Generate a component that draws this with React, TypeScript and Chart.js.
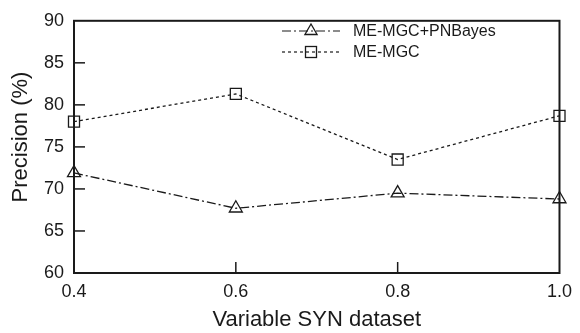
import React, { useEffect, useRef } from "react";
import { Chart, registerables } from "chart.js";

Chart.register(...registerables);

const xValues = [0.4, 0.6, 0.8, 1.0];
const pnBayes = [71.9, 67.7, 69.5, 68.8];
const meMgc = [78.0, 81.3, 73.5, 78.7];
const seriesNames = ["ME-MGC+PNBayes", "ME-MGC"];
const xTicks = [0.4, 0.6, 0.8, 1.0];
const yTicks = [60, 65, 70, 75, 80, 85, 90];
const xTitle = "Variable SYN dataset";
const yTitle = "Precision (%)";

const FONT = "'Liberation Sans', Arial, sans-serif";
const INK = "#1a1a1a";

const framePlugin = {
  id: "frame",
  afterDatasetsDraw(chart: any) {
    const { ctx, chartArea } = chart;
    const { left, right, top, bottom } = chartArea;
    ctx.save();
    ctx.strokeStyle = INK;
    ctx.lineWidth = 2;
    ctx.setLineDash([]);
    ctx.strokeRect(left, top, right - left, bottom - top);
    ctx.lineWidth = 1.5;
    const ys = chart.scales.y;
    yTicks.forEach((v) => {
      const p = ys.getPixelForValue(v);
      if (v === 60 || v === 90) return;
      ctx.beginPath();
      ctx.moveTo(left, p);
      ctx.lineTo(left + 11, p);
      ctx.stroke();
    });
    const xs = chart.scales.x;
    xTicks.forEach((v) => {
      const p = xs.getPixelForValue(v);
      if (v === 0.4 || v === 1.0) return;
      ctx.beginPath();
      ctx.moveTo(p, bottom);
      ctx.lineTo(p, bottom - 11);
      ctx.stroke();
    });
    // y axis title, placed slightly above the centre as in the reference
    ctx.translate(21, 137);
    ctx.rotate(-Math.PI / 2);
    ctx.fillStyle = INK;
    ctx.font = `22px ${FONT}`;
    ctx.textAlign = "center";
    ctx.textBaseline = "middle";
    ctx.fillText(yTitle, 0, 0);
    ctx.restore();
  },
};

const legendPlugin = {
  id: "customLegend",
  afterDraw(chart: any) {
    const { ctx } = chart;
    ctx.save();
    const x0 = 282;
    const x1 = 340;
    const xm = 311;
    const rows = [31, 52];
    chart.data.datasets.forEach((ds: any, i: number) => {
      const y = rows[i];
      ctx.strokeStyle = INK;
      ctx.lineWidth = 1.2;
      ctx.setLineDash(ds.borderDash);
      ctx.beginPath();
      ctx.moveTo(x0, y);
      ctx.lineTo(x1, y);
      ctx.stroke();
      ctx.setLineDash([]);
      ctx.lineWidth = 1.3;
      if (ds.pointStyle === "triangle") {
        const r = 7;
        ctx.beginPath();
        ctx.moveTo(xm, y - r);
        ctx.lineTo(xm + r * 0.87, y + r * 0.5);
        ctx.lineTo(xm - r * 0.87, y + r * 0.5);
        ctx.closePath();
        ctx.stroke();
      } else {
        ctx.strokeRect(xm - 5.5, y - 5.5, 11, 11);
      }
      ctx.fillStyle = INK;
      ctx.font = `16px ${FONT}`;
      ctx.textBaseline = "middle";
      ctx.textAlign = "left";
      ctx.fillText(seriesNames[i], 353, y + 1);
    });
    ctx.restore();
  },
};

export default function App() {
  const ref = useRef<HTMLCanvasElement | null>(null);
  useEffect(() => {
    document.body.style.margin = "0";
    const canvas = ref.current;
    if (!canvas) return;
    const chart = new Chart(canvas, {
      type: "line",
      data: {
        datasets: [
          {
            label: seriesNames[0],
            data: xValues.map((x, i) => ({ x, y: pnBayes[i] })),
            borderColor: INK,
            borderWidth: 1.3,
            borderDash: [9, 3, 2, 3],
            pointStyle: "triangle",
            pointRadius: 7.5,
            pointBorderWidth: 1.3,
            pointBorderColor: INK,
            pointBackgroundColor: "rgba(0,0,0,0)",
            clip: false as any,
          },
          {
            label: seriesNames[1],
            data: xValues.map((x, i) => ({ x, y: meMgc[i] })),
            borderColor: INK,
            borderWidth: 1.3,
            borderDash: [3, 3],
            pointStyle: "rect",
            pointRadius: 7.8,
            pointBorderWidth: 1.3,
            pointBorderColor: INK,
            pointBackgroundColor: "rgba(0,0,0,0)",
            clip: false as any,
          },
        ],
      },
      options: {
        animation: false,
        responsive: false,
        layout: { padding: { top: 13, right: 17, left: 0, bottom: 0 } },
        plugins: { legend: { display: false }, tooltip: { enabled: false } },
        scales: {
          x: {
            type: "linear",
            min: 0.4,
            max: 1.0,
            afterBuildTicks: (s: any) => {
              s.ticks = xTicks.map((v) => ({ value: v }));
            },
            afterFit: (s: any) => {
              s.height = 60;
            },
            grid: { display: false, drawTicks: false },
            border: { display: false },
            ticks: {
              padding: 8,
              color: INK,
              font: { family: FONT, size: 18 },
              callback: (v: any) => Number(v).toFixed(1),
            },
            title: {
              display: true,
              text: xTitle,
              color: INK,
              font: { family: FONT, size: 22 },
              padding: { top: 2, bottom: 0 },
            },
          },
          y: {
            type: "linear",
            min: 60,
            max: 90,
            afterBuildTicks: (s: any) => {
              s.ticks = yTicks.map((v) => ({ value: v }));
            },
            afterFit: (s: any) => {
              s.width = 74;
            },
            grid: { display: false, drawTicks: false },
            border: { display: false },
            ticks: {
              padding: 10,
              color: INK,
              font: { family: FONT, size: 18 },
            },
            title: { display: false },
          },
        },
      },
      plugins: [framePlugin, legendPlugin],
    });
    return () => chart.destroy();
  }, []);
  return (
    <div style={{ width: 580, height: 333 }}>
      <canvas ref={ref} width={580} height={333} style={{ width: 580, height: 333 }} />
    </div>
  );
}
